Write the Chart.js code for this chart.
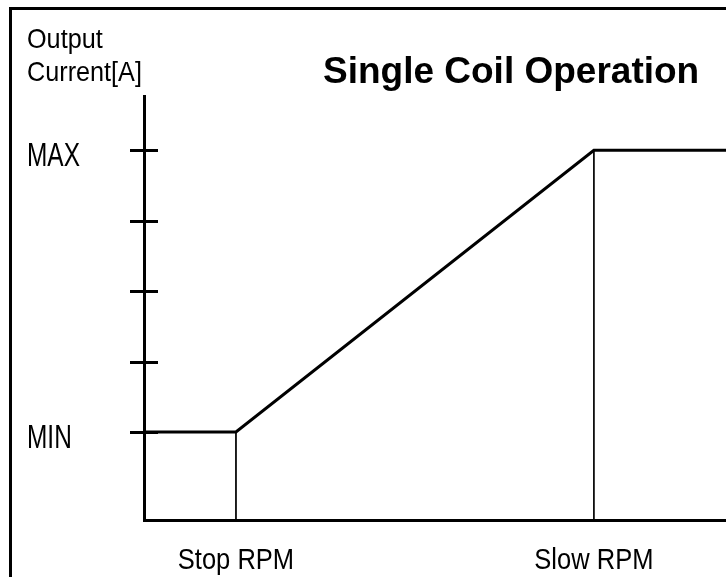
<!DOCTYPE html>
<html>
<head>
<meta charset="utf-8">
<script src="https://cdn.jsdelivr.net/npm/chart.js@4.4.0/dist/chart.umd.min.js"></script>
<style>
  html, body { margin: 0; padding: 0; background: #fff; }
  #wrap { position: relative; width: 726px; height: 577px; overflow: hidden; }
  #frame { position: absolute; left: 9px; top: 7px; right: -10px; bottom: -10px;
           border-left: 3px solid #000; border-top: 3px solid #000; pointer-events: none; }
  .axis-title { position: absolute; left: 27px; top: 22px; font-family: 'Liberation Sans', Arial, sans-serif;
                font-size: 26px; line-height: 31px; color: #000;
                transform: scale(0.97, 1.08); transform-origin: 0 0; }
  .chart-title { position: absolute; left: 323px; top: 52px; font-family: 'Liberation Sans', Arial, sans-serif;
                 font-weight: bold; font-size: 37px; line-height: 37px; white-space: nowrap; color: #000; }
</style>
</head>
<body>
<div id="wrap">
  <canvas id="coil-chart" width="726" height="577"></canvas>
  <div id="frame"></div>
  <div class="axis-title">Output<br>Current[A]</div>
  <div class="chart-title">Single Coil Operation</div>
</div>
<script>
// --- Data ---
const rpmLabels = ['Stop RPM', 'Slow RPM'];
const rpmPoints = [15.8, 77.3];        // where Stop / Slow RPM sit on the x range
const xRange = [0, 100];

const currentTicks = [1, 2, 3, 4, 5];
const currentLabels = ['MIN', '', '', '', 'MAX'];
const yRange = [-0.25, 5.77];

const curveX = [0, 15.8, 77.3, 100];
const curveY = [1, 1, 5, 5];

const labelFont = "'Liberation Sans', Arial, sans-serif";

// --- Datasets ---
const curve = curveX.map((x, i) => ({ x, y: curveY[i] }));

// thin drop lines from the curve corners down to the x axis
const dropLines = rpmPoints.map(p => {
  const idx = curveX.indexOf(p);
  return {
    data: [{ x: p, y: curveY[idx] }, { x: p, y: yRange[0] }],
    borderColor: '#000',
    borderWidth: 1,
    pointRadius: 0
  };
});

// tick marks that cross the y axis
const crossTicks = {
  id: 'crossTicks',
  afterDatasetsDraw(chart) {
    const yScale = chart.scales.y;
    const ctx = chart.ctx;
    const x0 = chart.chartArea.left;
    ctx.save();
    ctx.strokeStyle = '#000';
    ctx.lineWidth = 3;
    currentTicks.forEach(v => {
      const py = Math.round(yScale.getPixelForValue(v)) + 0.5;
      ctx.beginPath();
      ctx.moveTo(x0 - 14, py);
      ctx.lineTo(x0 + 14, py);
      ctx.stroke();
    });
    ctx.restore();
  }
};

// condensed tick labels (the original uses a narrow face)
function narrowText(ctx, text, x, y, align, sx) {
  ctx.save();
  ctx.translate(x, y);
  ctx.scale(sx, 1);
  ctx.textAlign = align;
  ctx.textBaseline = 'alphabetic';
  ctx.fillText(text, 0, 0);
  ctx.restore();
}

const narrowLabels = {
  id: 'narrowLabels',
  afterDraw(chart) {
    const { ctx, scales: { x, y } } = chart;
    ctx.save();
    ctx.fillStyle = '#000';
    ctx.font = '33px ' + labelFont;
    currentTicks.forEach((v, i) => {
      if (currentLabels[i]) narrowText(ctx, currentLabels[i], y.left, y.getPixelForValue(v) + 16, 'left', 0.74);
    });
    ctx.font = '29px ' + labelFont;
    rpmPoints.forEach((v, i) => {
      narrowText(ctx, rpmLabels[i], x.getPixelForValue(v), x.top + 49, 'center', 0.88);
    });
    ctx.restore();
  }
};

const ctx = document.getElementById('coil-chart').getContext('2d');
new Chart(ctx, {
  type: 'line',
  data: {
    datasets: [{
      data: curve,
      borderColor: '#000',
      borderWidth: 3,
      pointRadius: 0,
      tension: 0
    }, ...dropLines]
  },
  options: {
    responsive: false,
    animation: false,
    events: [],
    layout: { padding: { left: 27, top: 96, right: 0, bottom: 0 } },
    plugins: { legend: { display: false }, tooltip: { enabled: false } },
    scales: {
      x: {
        type: 'linear',
        min: xRange[0],
        max: xRange[1],
        afterBuildTicks: s => { s.ticks = rpmPoints.map(v => ({ value: v })); },
        afterFit: s => { s.height = 57; },
        grid: { display: false, drawTicks: false },
        border: { display: true, color: '#000', width: 3 },
        ticks: { display: false }
      },
      y: {
        type: 'linear',
        min: yRange[0],
        max: yRange[1],
        afterBuildTicks: s => { s.ticks = currentTicks.map(v => ({ value: v })); },
        afterFit: s => { s.width = 117; },
        grid: { display: false, drawTicks: false },
        border: { display: true, color: '#000', width: 3 },
        ticks: { display: false }
      }
    }
  },
  plugins: [crossTicks, narrowLabels]
});
</script>
</body>
</html>
